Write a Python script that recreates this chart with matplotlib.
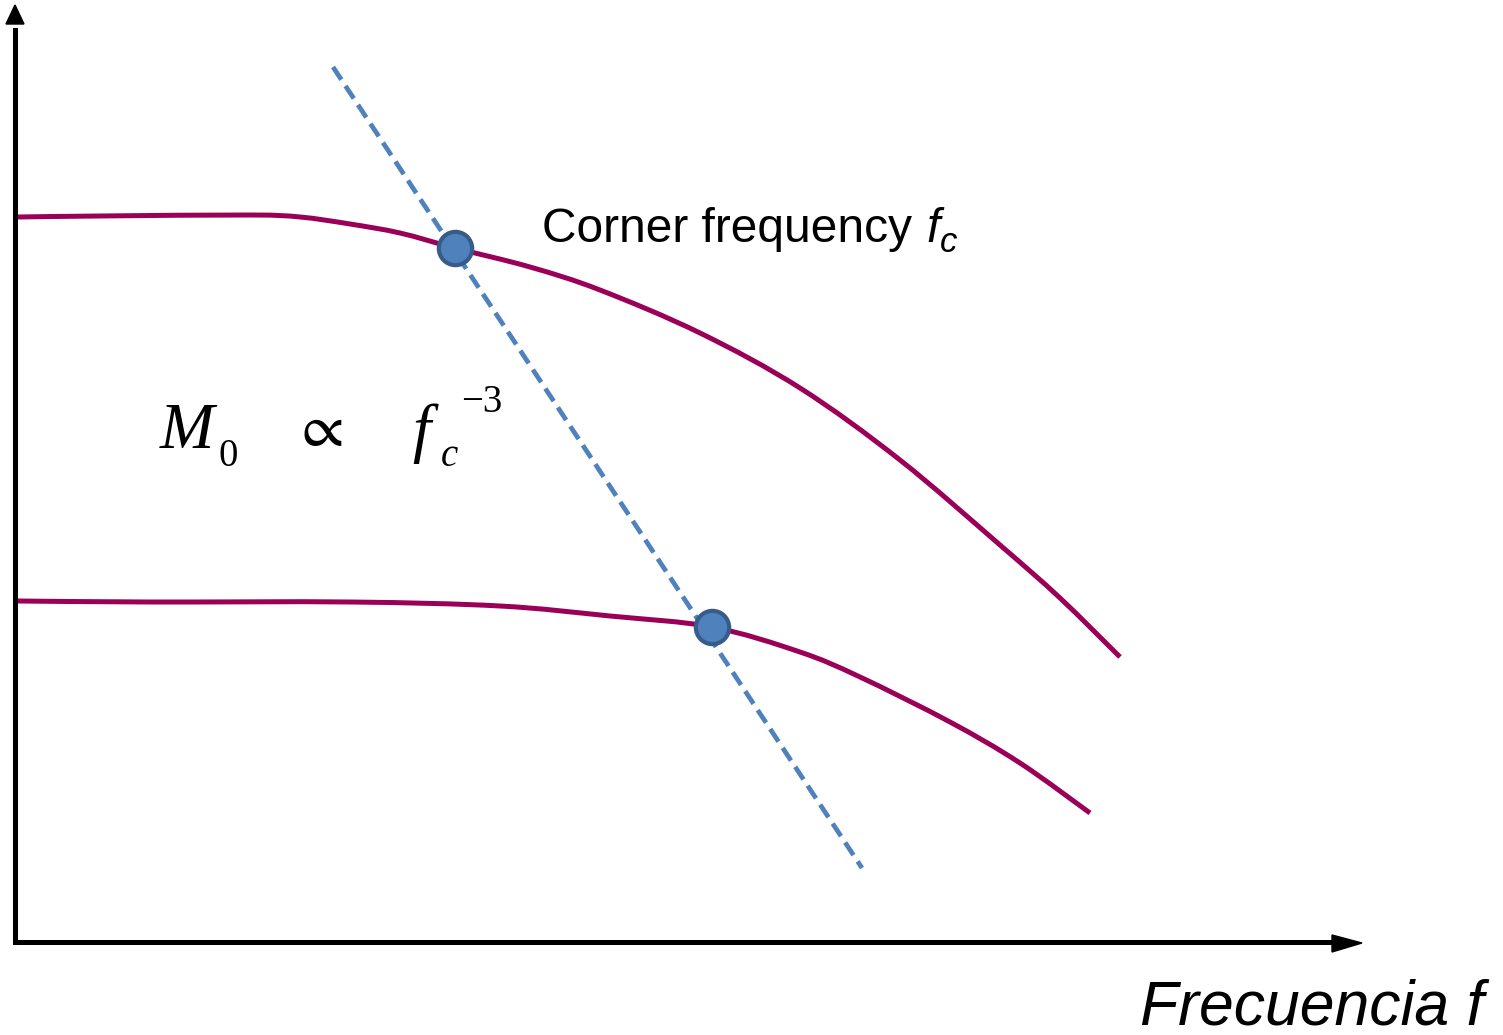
import numpy as np
import matplotlib.pyplot as plt
from matplotlib.path import Path
import matplotlib.patches as mpatches

# sketch coordinates (pixels of the original drawing, y goes down)
upper_x = [18, 100, 250, 300, 350, 400, 455, 530, 600, 700, 800, 900, 1000, 1060, 1120]
upper_y = [217, 216, 215, 217, 224, 233, 248, 267, 290, 333, 388, 460, 545, 598, 657]
lower_x = [18, 150, 350, 500, 610, 712, 800, 860, 950, 1020, 1090]
lower_y = [601, 602, 602, 606, 616, 627, 652, 677, 722, 763, 813]
dash_x = [333, 862]
dash_y = [67, 868]
corner_x = [455, 712]
corner_y = [248, 627]

curve_col = '#9b0058'
blue = '#4f81bd'


def smooth_path(xs, ys):
    # Catmull-Rom through the read points, drawn as cubic Bezier segments
    pts = np.column_stack([xs, ys]).astype(float)
    verts = [pts[0]]
    codes = [Path.MOVETO]
    n = len(pts)
    for i in range(n - 1):
        p0 = pts[i - 1] if i > 0 else pts[i]
        p1 = pts[i]
        p2 = pts[i + 1]
        p3 = pts[i + 2] if i + 2 < n else pts[i + 1]
        c1 = p1 + (p2 - p0) / 6
        c2 = p2 - (p3 - p1) / 6
        verts += [c1, c2, p2]
        codes += [Path.CURVE4] * 3
    return Path(verts, codes)


fig = plt.figure(figsize=(15.03, 10.35), dpi=100)
ax = fig.add_axes([0, 0, 1, 1])
ax.set_xlim(0, 1503)
ax.set_ylim(1035, 0)
ax.axis('off')

for xs, ys in [(upper_x, upper_y), (lower_x, lower_y)]:
    ax.add_patch(mpatches.PathPatch(smooth_path(xs, ys), fill=False,
                                    edgecolor=curve_col, lw=3.6, capstyle='butt'))
ax.plot(dash_x, dash_y, color=blue, lw=3.4, linestyle=(0, (3.2, 1.6)))
ax.plot(corner_x, corner_y, 'o', ms=24, mfc=blue, mec='#375c8a', mew=3, zorder=5)

# axes with arrows
ax.plot([15, 15], [942, 30], color='black', lw=3.6)
ax.plot([15, 1340], [942, 942], color='black', lw=3.6)
ax.add_patch(mpatches.Polygon([[15, 5], [6, 24], [24, 24]], closed=True, color='black'))
ax.add_patch(mpatches.Polygon([[1362, 943], [1332, 935], [1332, 952]], closed=True, color='black'))

ax.text(542, 229, 'Corner frequency', fontsize=34.5, family='Liberation Sans',
        va='center', ha='left')
ax.text(926, 229, 'f', fontsize=34.5, family='Liberation Sans', style='italic',
        va='center', ha='left')
ax.text(940, 243, 'c', fontsize=25, family='Liberation Sans', style='italic',
        va='center', ha='left')

ax.text(1140, 1008, 'Frecuencia f', fontsize=45, family='Liberation Sans',
        style='italic', va='center', ha='left')

serif = ['Liberation Serif', 'DejaVu Serif']
ax.text(160, 432, 'M', fontsize=47, family=serif, style='italic', va='center', ha='left')
ax.text(219, 457, '0', fontsize=28, family=serif, va='center', ha='left')
ax.text(302, 432, '\u221d', fontsize=44, family=['STIXGeneral', 'DejaVu Serif'],
        va='center', ha='left')
ax.text(412, 434, 'f', fontsize=47, family=serif, style='italic', va='center', ha='left')
ax.text(441, 457, 'c', fontsize=28, family=serif, style='italic', va='center', ha='left')
ax.text(461, 403, '\u22123', fontsize=28, family=serif, va='center', ha='left')

fig.savefig('out.png', dpi=100)
